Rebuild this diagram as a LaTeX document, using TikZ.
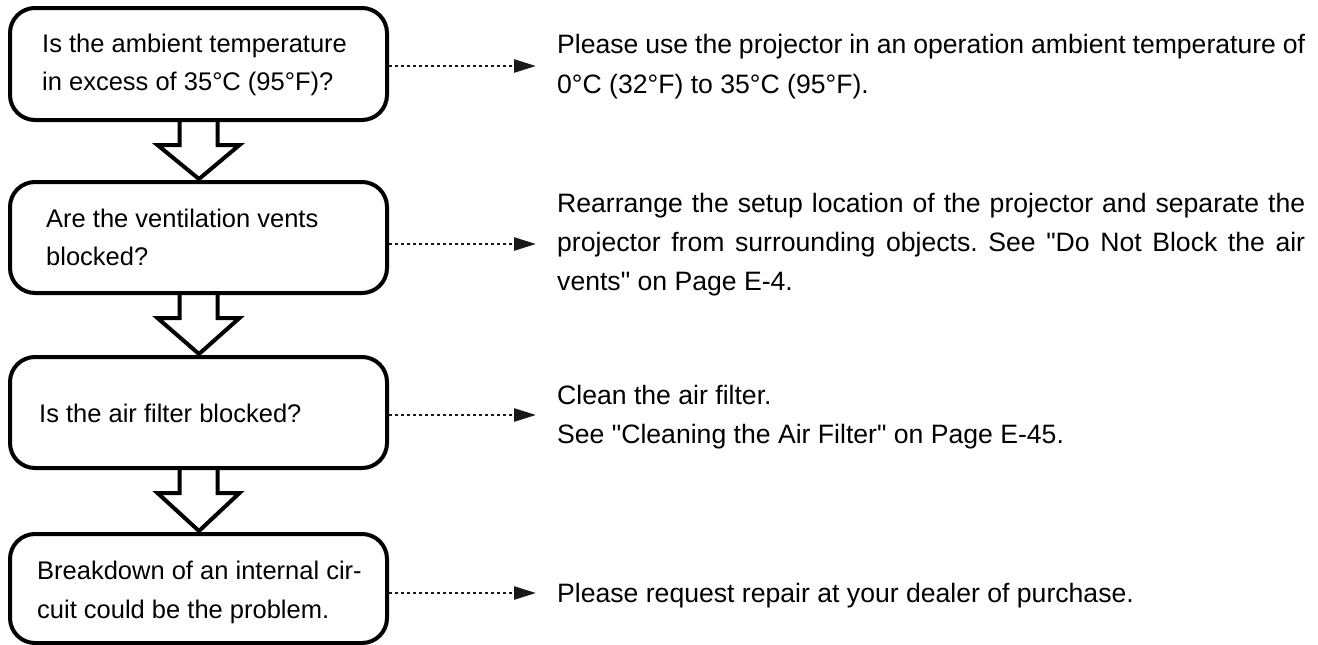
\documentclass[tikz,border=0pt]{standalone}
\usepackage{fontspec}
\setmainfont{Liberation Sans}[Ligatures=TeXOff]
\usetikzlibrary{arrows.meta,calc}
\begin{document}
\frenchspacing
\begin{tikzpicture}[x=1pt,y=-1pt,
  qbox/.style={draw=black,line width=4pt,rounded corners=25pt,minimum width=377pt,inner sep=0pt},
  txt/.style={inner sep=0pt,anchor=base west,font=\fontsize{25.5}{38}\selectfont},
  rtxt/.style={inner sep=0pt,anchor=base west,font=\fontsize{26.6}{39}\selectfont},
  dotarr/.style={line width=2.5pt,dash pattern=on 2.5pt off 3.5pt,-{Triangle[length=22pt,width=13pt]},color=black!90},
  blockarr/.style={draw=black,line width=4pt,line join=miter}]
\useasboundingbox (0,0) rectangle (1318,645);
% boxes
\node[qbox,minimum height=112pt] (b1) at (198.5,64) {};
\node[qbox,minimum height=111pt] (b2) at (198.5,237.5) {};
\node[qbox,minimum height=111pt] (b3) at (198.5,412.5) {};
\node[qbox,minimum height=109pt] (b4) at (198.5,588.5) {};
% box texts
\node[txt] (q1a) at (42,52) {Is the ambient temperature};
\node[txt] (q1b) at (42,90) {in excess of 35°C (95°F)?};
\node[txt] (q2a) at (46,227) {Are the ventilation vents};
\node[txt] (q2b) at (46,265) {blocked?};
\node[txt] (q3a) at (39,422) {Is the air filter blocked?};
\node[txt] (q4a) at (37,579) {Breakdown of an internal cir-};
\node[txt] (q4b) at (37,618) {cuit could be the problem.};
% answers
\node[rtxt] (a1a) at (557,53) {\makebox[748pt][s]{Please use the projector in an operation ambient temperature of}};
\node[rtxt] (a1b) at (557,93) {0°C (32°F) to 35°C (95°F).};
\node[rtxt] (a2a) at (557,212) {\makebox[748pt][s]{Rearrange the setup location of the projector and separate the}};
\node[rtxt] (a2b) at (557,251) {\makebox[748pt][s]{projector from surrounding objects. See "Do Not Block the air}};
\node[rtxt] (a2c) at (557,290) {vents" on Page E-4.};
\node[rtxt] (a3a) at (557,404) {Clean the air filter.};
\node[rtxt] (a3b) at (557,443) {See "Cleaning the Air Filter" on Page E-45.};
\node[rtxt] (a4a) at (557,602) {Please request repair at your dealer of purchase.};
% dotted arrows
\coordinate (t1) at (536,66);
\coordinate (t2) at (536,244);
\coordinate (t3) at (536,415);
\coordinate (t4) at (536,593);
\draw[dotarr] (t1 -| b1.east) -- (t1);
\draw[dotarr] (t2 -| b2.east) -- (t2);
\draw[dotarr] (t3 -| b3.east) -- (t3);
\draw[dotarr] (t4 -| b4.east) -- (t4);
% block arrows
\foreach \u/\v in {b1/b2,b2/b3,b3/b4}{
  \draw[blockarr] ([xshift=-19pt]\u.south) -- ([xshift=-19pt,yshift=-23pt]\u.south)
    -- ([xshift=-41pt,yshift=-23pt]\u.south) -- ([xshift=0.5pt,yshift=1pt]\v.north)
    -- ([xshift=41pt,yshift=-23pt]\u.south) -- ([xshift=19pt,yshift=-23pt]\u.south)
    -- ([xshift=19pt]\u.south);
}
\end{tikzpicture}
\end{document}
